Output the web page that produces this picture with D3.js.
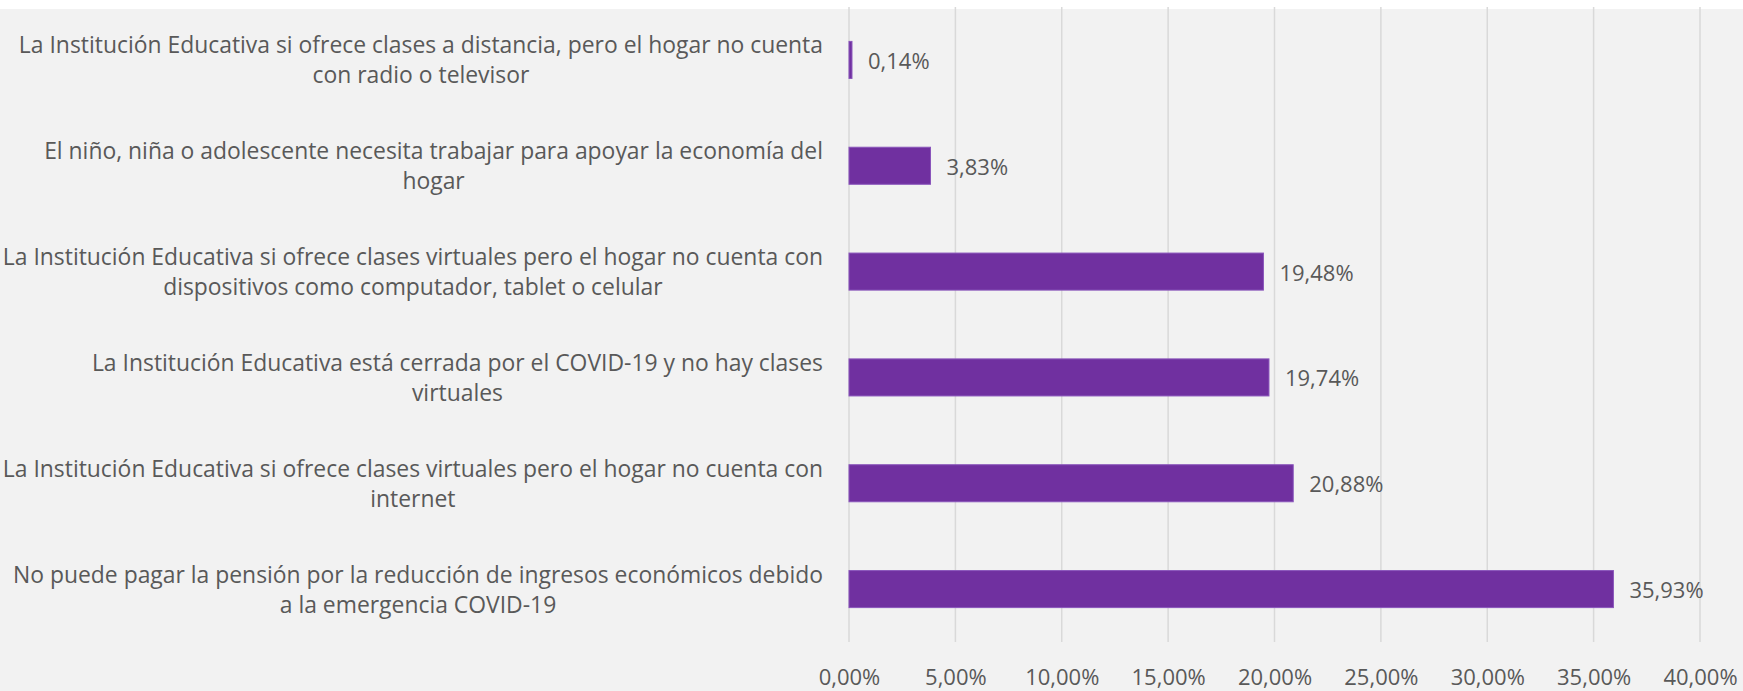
<!DOCTYPE html>
<html>
<head>
<meta charset="utf-8">
<script src="https://cdn.jsdelivr.net/npm/d3@7"></script>
<style>
  html, body { margin: 0; padding: 0; background: #ffffff; }
  svg { display: block; }
  text { font-family: "Open Sans", "Noto Sans", sans-serif; fill: #595959; }
</style>
</head>
<body>
<svg id="chart" width="1743" height="691"></svg>
<script>
// ---- data ----
const categories = [
  "La Institución Educativa si ofrece clases a distancia, pero el hogar no cuenta\ncon radio o televisor",
  "El niño, niña o adolescente necesita trabajar para apoyar la economía del\nhogar",
  "La Institución Educativa si ofrece clases virtuales pero el hogar no cuenta con\ndispositivos como computador, tablet o celular",
  "La Institución Educativa está cerrada por el COVID-19 y no hay clases\nvirtuales",
  "La Institución Educativa si ofrece clases virtuales pero el hogar no cuenta con\ninternet",
  "No puede pagar la pensión por la reducción de ingresos económicos debido\na la emergencia COVID-19"
];
const values = [0.0014, 0.0383, 0.1948, 0.1974, 0.2088, 0.3593];
const valueLabels = ["0,14%", "3,83%", "19,48%", "19,74%", "20,88%", "35,93%"];
const tickValues = [0, 0.05, 0.10, 0.15, 0.20, 0.25, 0.30, 0.35, 0.40];
const tickLabels = ["0,00%", "5,00%", "10,00%", "15,00%", "20,00%", "25,00%", "30,00%", "35,00%", "40,00%"];

// ---- layout ----
const W = 1743, H = 691;
const svg = d3.select("#chart");
svg.append("rect").attr("x", 0).attr("y", 9).attr("width", W).attr("height", H - 9).attr("fill", "#f2f2f2");

const x = d3.scaleLinear().domain([0, 0.40]).range([849, 1700]);
const y = d3.scaleBand().domain(d3.range(categories.length)).range([7, 642]).paddingInner(0.65).paddingOuter(0.325);

// gridlines
svg.append("g").selectAll("line").data(tickValues).join("line")
  .attr("x1", d => x(d)).attr("x2", d => x(d))
  .attr("y1", 7).attr("y2", 642)
  .attr("stroke", "#d9d9d9").attr("stroke-width", 1.5);

// x axis labels
const xAxis = d3.axisBottom(x).tickValues(tickValues).tickFormat((d, i) => tickLabels[i]).tickSize(0).tickPadding(0);
const gx = svg.append("g").attr("transform", "translate(0,670)").call(xAxis);
gx.select(".domain").remove();
gx.selectAll("text").attr("dy", null).attr("y", 15)
  .style("font-size", "22px").attr("fill", "#595959")
  .style("font-family", '"Open Sans", "Noto Sans", sans-serif');

// bars
svg.append("g").selectAll("rect").data(values).join("rect")
  .attr("x", x(0))
  .attr("y", (d, i) => y(i))
  .attr("width", d => x(d) - x(0))
  .attr("height", y.bandwidth())
  .attr("fill", "#7030a0")
  .attr("stroke", "#8a55bb").attr("stroke-width", 1);

// value labels
svg.append("g").selectAll("text").data(values).join("text")
  .attr("x", d => x(d) + 16)
  .attr("y", (d, i) => y(i) + y.bandwidth() / 2 + 9)
  .style("font-size", "22px")
  .text((d, i) => valueLabels[i]);

// category labels
const labelRight = 823;
const lineH = 30;
const catG = svg.append("g");
categories.forEach((c, i) => {
  const lines = c.split("\n");
  const cy = y(i) + y.bandwidth() / 2;
  const t = catG.append("text").style("font-size", "22.9px").attr("text-anchor", "middle");
  const spans = lines.map((ln, j) => t.append("tspan")
    .attr("y", cy + 8.5 + (j - (lines.length - 1) / 2) * lineH)
    .text(ln));
  const maxW = d3.max(spans, s => s.node().getComputedTextLength());
  spans.forEach(s => s.attr("x", labelRight - maxW / 2));
});
</script>
</body>
</html>
